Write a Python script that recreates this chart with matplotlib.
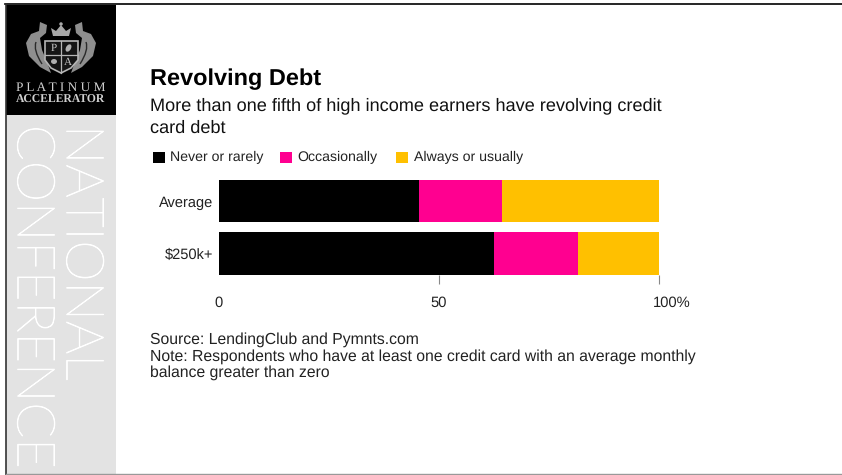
import matplotlib
matplotlib.use('Agg')
import matplotlib.pyplot as plt
import matplotlib.patheffects as pe
from matplotlib.patches import Polygon, Rectangle, Ellipse, PathPatch
from matplotlib.path import Path
from matplotlib.transforms import ScaledTranslation

categories = ['Average', '$250k+']
never = [45.4, 62.6]
occasionally = [19.0, 19.0]
always = [35.6, 18.4]
series_names = ['Never or rarely', 'Occasionally', 'Always or usually']
series_colors = ['#000000', '#FF0090', '#FFC000']
x_ticks = [0, 50, 100]
x_tick_labels = ['0', '50', '100%']

W, H = 842, 475
plt.rcParams['font.family'] = ['Liberation Sans', 'DejaVu Sans']
plt.rcParams['text.hinting'] = 'no_hinting'

fig = plt.figure(figsize=(W / 100, H / 100), dpi=100, facecolor='white')

# page layer in pixel units
page = fig.add_axes([0, 0, 1, 1])
page.set_xlim(0, W)
page.set_ylim(H, 0)
page.axis('off')

page.add_patch(Rectangle((6, 5), 110, 110, color='black', lw=0))
page.add_patch(Rectangle((6, 115), 110, 360, color='#E3E3E3', lw=0))
page.plot([5, 842], [4, 4], color='black', lw=1.2)
page.plot([5.5, 5.5], [4, 475], color='#333333', lw=1.2)
page.plot([6, 842], [474, 474], color='#999999', lw=1)


def draw_crest(ax):
    grey = '#8E8E8E'
    # side leaves, mirrored around the shield axis
    leaf = [(40, 22), (47, 25), (46, 33), (40, 38), (42, 50), (47, 62), (51, 73), (40, 67), (29, 56),
            (26, 43), (31, 34), (39, 31)]
    ax.add_patch(Polygon(leaf, closed=True, fc=grey, ec='none'))
    ax.add_patch(Polygon([(122 - x, y) for x, y in leaf], closed=True, fc=grey, ec='none'))
    for mirrored in (False, True):
        pts = [(36, 42), (33, 50), (42, 64)]
        if mirrored:
            pts = [(122 - x, y) for x, y in pts]
        ax.add_patch(PathPatch(Path(pts, [Path.MOVETO, Path.CURVE3, Path.CURVE3]),
                               fc='none', ec='#2A2A2A', lw=1))
    # shield
    shield = Polygon([(45, 41), (78, 41), (78, 60), (71, 68), (61, 73), (51, 68), (45, 60)],
                     closed=True, fc='#151515', ec='#B5B5B5', lw=1.2)
    ax.add_patch(shield)
    ax.plot([61, 61], [41, 73], color='#B5B5B5', lw=0.9)
    ax.plot([45, 78], [55, 55], color='#B5B5B5', lw=0.9)
    ax.text(54, 48.5, 'P', color='#C8C8C8', fontsize=8, family='Liberation Serif', ha='center', va='center')
    ax.text(68, 62, 'A', color='#C8C8C8', fontsize=8, family='Liberation Serif', ha='center', va='center')
    ax.add_patch(Ellipse((68.5, 48), 5, 8, angle=30, color='#B0B0B0', lw=0))
    ax.add_patch(Ellipse((54, 61.5), 6, 5, color='#B0B0B0', lw=0))
    # crown
    ax.add_patch(Polygon([(53, 36), (51, 28), (56, 31), (61, 25), (66, 31), (71, 28), (69, 36)],
                         closed=True, fc='#A8A8A8', ec='none'))
    ax.add_patch(Ellipse((61, 24), 3.5, 3.5, color='#A8A8A8', lw=0))


draw_crest(page)
page.text(60.5, 87.5, 'P L A T I N U M', color='#D0D0D0', fontsize=9.6, family='Liberation Serif',
          ha='center', va='center')
page.text(61, 100, 'ACCELERATOR', color='#D0D0D0', fontsize=8.4, family='Liberation Serif',
          ha='center', va='center', weight='bold')

# sidebar lettering, reads top to bottom
thicker = [pe.withStroke(linewidth=0.6, foreground='white')]
page.text(81, 125, 'NATIONAL', color='white', fontsize=37.8, family='Lato', weight='light',
          rotation=-90, ha='center', va='top', path_effects=thicker)
page.text(32, 125, 'CONFERENCE', color='white', fontsize=37.8, family='Lato', weight='light',
          rotation=-90, ha='center', va='top', path_effects=thicker)

# headline block
page.text(150, 79, 'Revolving Debt', color='black', fontsize=16.9, weight='bold', va='center')
page.text(150, 106, 'More than one fifth of high income earners have revolving credit',
          color='#111111', fontsize=13.1, va='center')
page.text(150, 128, 'card debt', color='#111111', fontsize=13.1, va='center')

# legend row
legend_x = [153, 280, 396]
for name, color, x in zip(series_names, series_colors, legend_x):
    page.add_patch(Rectangle((x, 152), 12, 11, color=color, lw=0))
    page.text(x + 17.5, 157.5, name, color='#222222', fontsize=10.2, va='center')

# footer
page.text(150, 340, 'Source: LendingClub and Pymnts.com', color='#222222', fontsize=11.3, va='center')
page.text(150, 357, 'Note: Respondents who have at least one credit card with an average monthly',
          color='#222222', fontsize=11.3, va='center')
page.text(150, 373, 'balance greater than zero', color='#222222', fontsize=11.3, va='center')

# chart
ax = fig.add_axes([219 / W, 1 - 275 / H, (659 - 219) / W, (275 - 175) / H])
ax.patch.set_alpha(0)
y_pos = [0, 1]
left = [0, 0]
for values, color, name in zip([never, occasionally, always], series_colors, series_names):
    ax.barh(y_pos, values, left=left, height=0.81, color=color, label=name)
    left = [a + b for a, b in zip(left, values)]
ax.set_xlim(0, 100)
ax.set_ylim(1.41, -0.495)
ax.set_yticks(y_pos, categories)
ax.set_xticks(x_ticks, x_tick_labels)
ax.tick_params(axis='y', length=0, pad=4, labelsize=10.5, labelcolor='#222222')
ax.tick_params(axis='x', length=6.5, width=0.8, color='#888888', pad=8.5, labelsize=10.6, labelcolor='#222222', direction='out')
for spine in ax.spines.values():
    spine.set_visible(False)

# no tick mark at zero, and the percent label hangs off the last tick
ax.xaxis.get_major_ticks()[0].tick1line.set_visible(False)
last_label = ax.get_xticklabels()[-1]
last_label.set_transform(last_label.get_transform() + ScaledTranslation(9.5 / 72, 0, fig.dpi_scale_trans))

fig.savefig('out.png', dpi=100)
